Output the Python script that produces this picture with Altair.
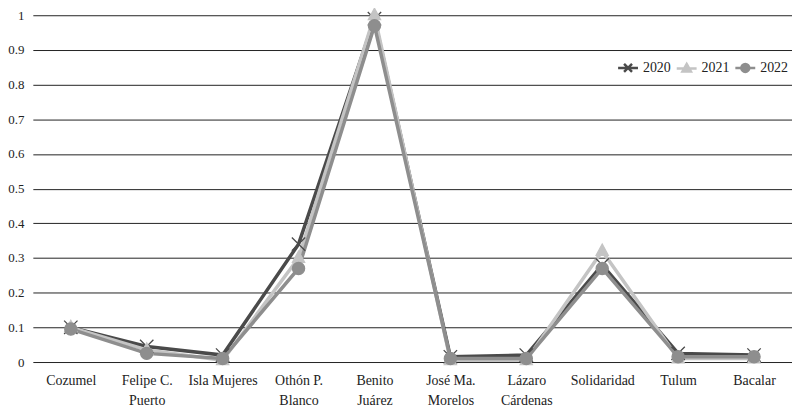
import altair as alt
import pandas as pd

categories = ["Cozumel", "Felipe C.\nPuerto", "Isla Mujeres", "Othón P.\nBlanco", "Benito\nJuárez",
              "José Ma.\nMorelos", "Lázaro\nCárdenas", "Solidaridad", "Tulum", "Bacalar"]
years = ["2020", "2021", "2022"]
v2020 = [0.10, 0.045, 0.02, 0.34, 0.99, 0.015, 0.02, 0.28, 0.025, 0.02]
v2021 = [0.10, 0.035, 0.005, 0.30, 1.00, 0.005, 0.005, 0.32, 0.01, 0.01]
v2022 = [0.095, 0.025, 0.01, 0.27, 0.97, 0.01, 0.01, 0.27, 0.015, 0.015]
colors = ["#4a4a4a", "#c4c4c4", "#8e8e8e"]
series = {"2020": v2020, "2021": v2021, "2022": v2022}

rows = []
for y in years:
    for c, v in zip(categories, series[y]):
        rows.append({"cat": c, "year": y, "value": v, "order": years.index(y)})
df = pd.DataFrame(rows)

xpath = "M-1.1,-1.1L1.1,1.1M-1.1,1.1L1.1,-1.1"
tri = "M0,-1.15L1,0.7L-1,0.7Z"
shapes_plot = [xpath, tri, "circle"]

leg_x = "M-2,0H2M-0.8,-0.8L0.8,0.8M-0.8,0.8L0.8,-0.8"
leg_t = "M-2,0H2M0,-0.9L0.85,0.6L-0.85,0.6Z"
leg_c = "M-2,0H2M-0.8,0A0.8,0.8 0 1,0 0.8,0A0.8,0.8 0 1,0 -0.8,0Z"

xenc = alt.X("cat:N", sort=categories, title=None,
             axis=alt.Axis(labelExpr="split(datum.label, '\\n')", labelAngle=0,
                           labelFont="Liberation Serif", labelFontSize=14, labelColor="#222",
                           labelLineHeight=20, labelPadding=12, ticks=False, domain=False,
                           grid=False),
             scale=alt.Scale(paddingInner=0, paddingOuter=0.5))
yenc = alt.Y("value:Q", title=None,
             scale=alt.Scale(domain=[0, 1], nice=False),
             axis=alt.Axis(values=[0, 0.1, 0.2, 0.3, 0.4, 0.5, 0.6, 0.7, 0.8, 0.9, 1],
                           labelExpr="datum.value == 0 ? '0' : datum.value == 1 ? '1' : format(datum.value, '.1f')",
                           labelFont="Liberation Serif", labelFontSize=13, labelColor="#222",
                           labelPadding=9, ticks=False, domain=False, grid=True,
                           gridColor="#222", gridWidth=1))

lines = alt.Chart(df).mark_line(strokeWidth=3.5).encode(
    x=xenc, y=yenc,
    color=alt.Color("year:N", scale=alt.Scale(domain=years, range=colors), legend=None),
    detail="year:N", order="order:Q")

points = alt.Chart(df).mark_point(filled=True, size=150, strokeWidth=1.3, opacity=1).encode(
    x=xenc, y=yenc,
    fill=alt.Fill("year:N", scale=alt.Scale(domain=years, range=colors), legend=None),
    stroke=alt.Stroke("year:N", scale=alt.Scale(domain=years, range=colors), legend=None),
    shape=alt.Shape("year:N", scale=alt.Scale(domain=years, range=shapes_plot), legend=None),
    order="order:Q")

def leg():
    return alt.Legend(title=None, orient="none", direction="horizontal",
                      legendX=592, legendY=46, padding=0,
                      labelFont="Liberation Serif", labelFontSize=14,
                      labelColor="#222", symbolSize=100, labelOffset=8,
                      columnPadding=1, symbolStrokeWidth=2.5)

legend_layer = alt.Chart(df).transform_filter("false").mark_point(
    filled=True, size=100, strokeWidth=2.5, opacity=1).encode(
    x=xenc, y=yenc,
    fill=alt.Fill("year:N", scale=alt.Scale(domain=years, range=colors), legend=leg()),
    stroke=alt.Stroke("year:N", scale=alt.Scale(domain=years, range=colors), legend=leg()),
    shape=alt.Shape("year:N", scale=alt.Scale(domain=years, range=[leg_x, leg_t, leg_c]),
                    legend=leg()))

chart = alt.layer(lines, points, legend_layer).resolve_scale(
    shape="independent", fill="independent", stroke="independent").properties(
    width=764, height=349,
    autosize=alt.AutoSizeParams(type="none"),
    padding={"left": 25, "top": 6, "right": 0, "bottom": 50},
    background="white"
).configure_view(stroke=None)

chart.save("out.html", embed_options={"renderer": "svg", "actions": False})
